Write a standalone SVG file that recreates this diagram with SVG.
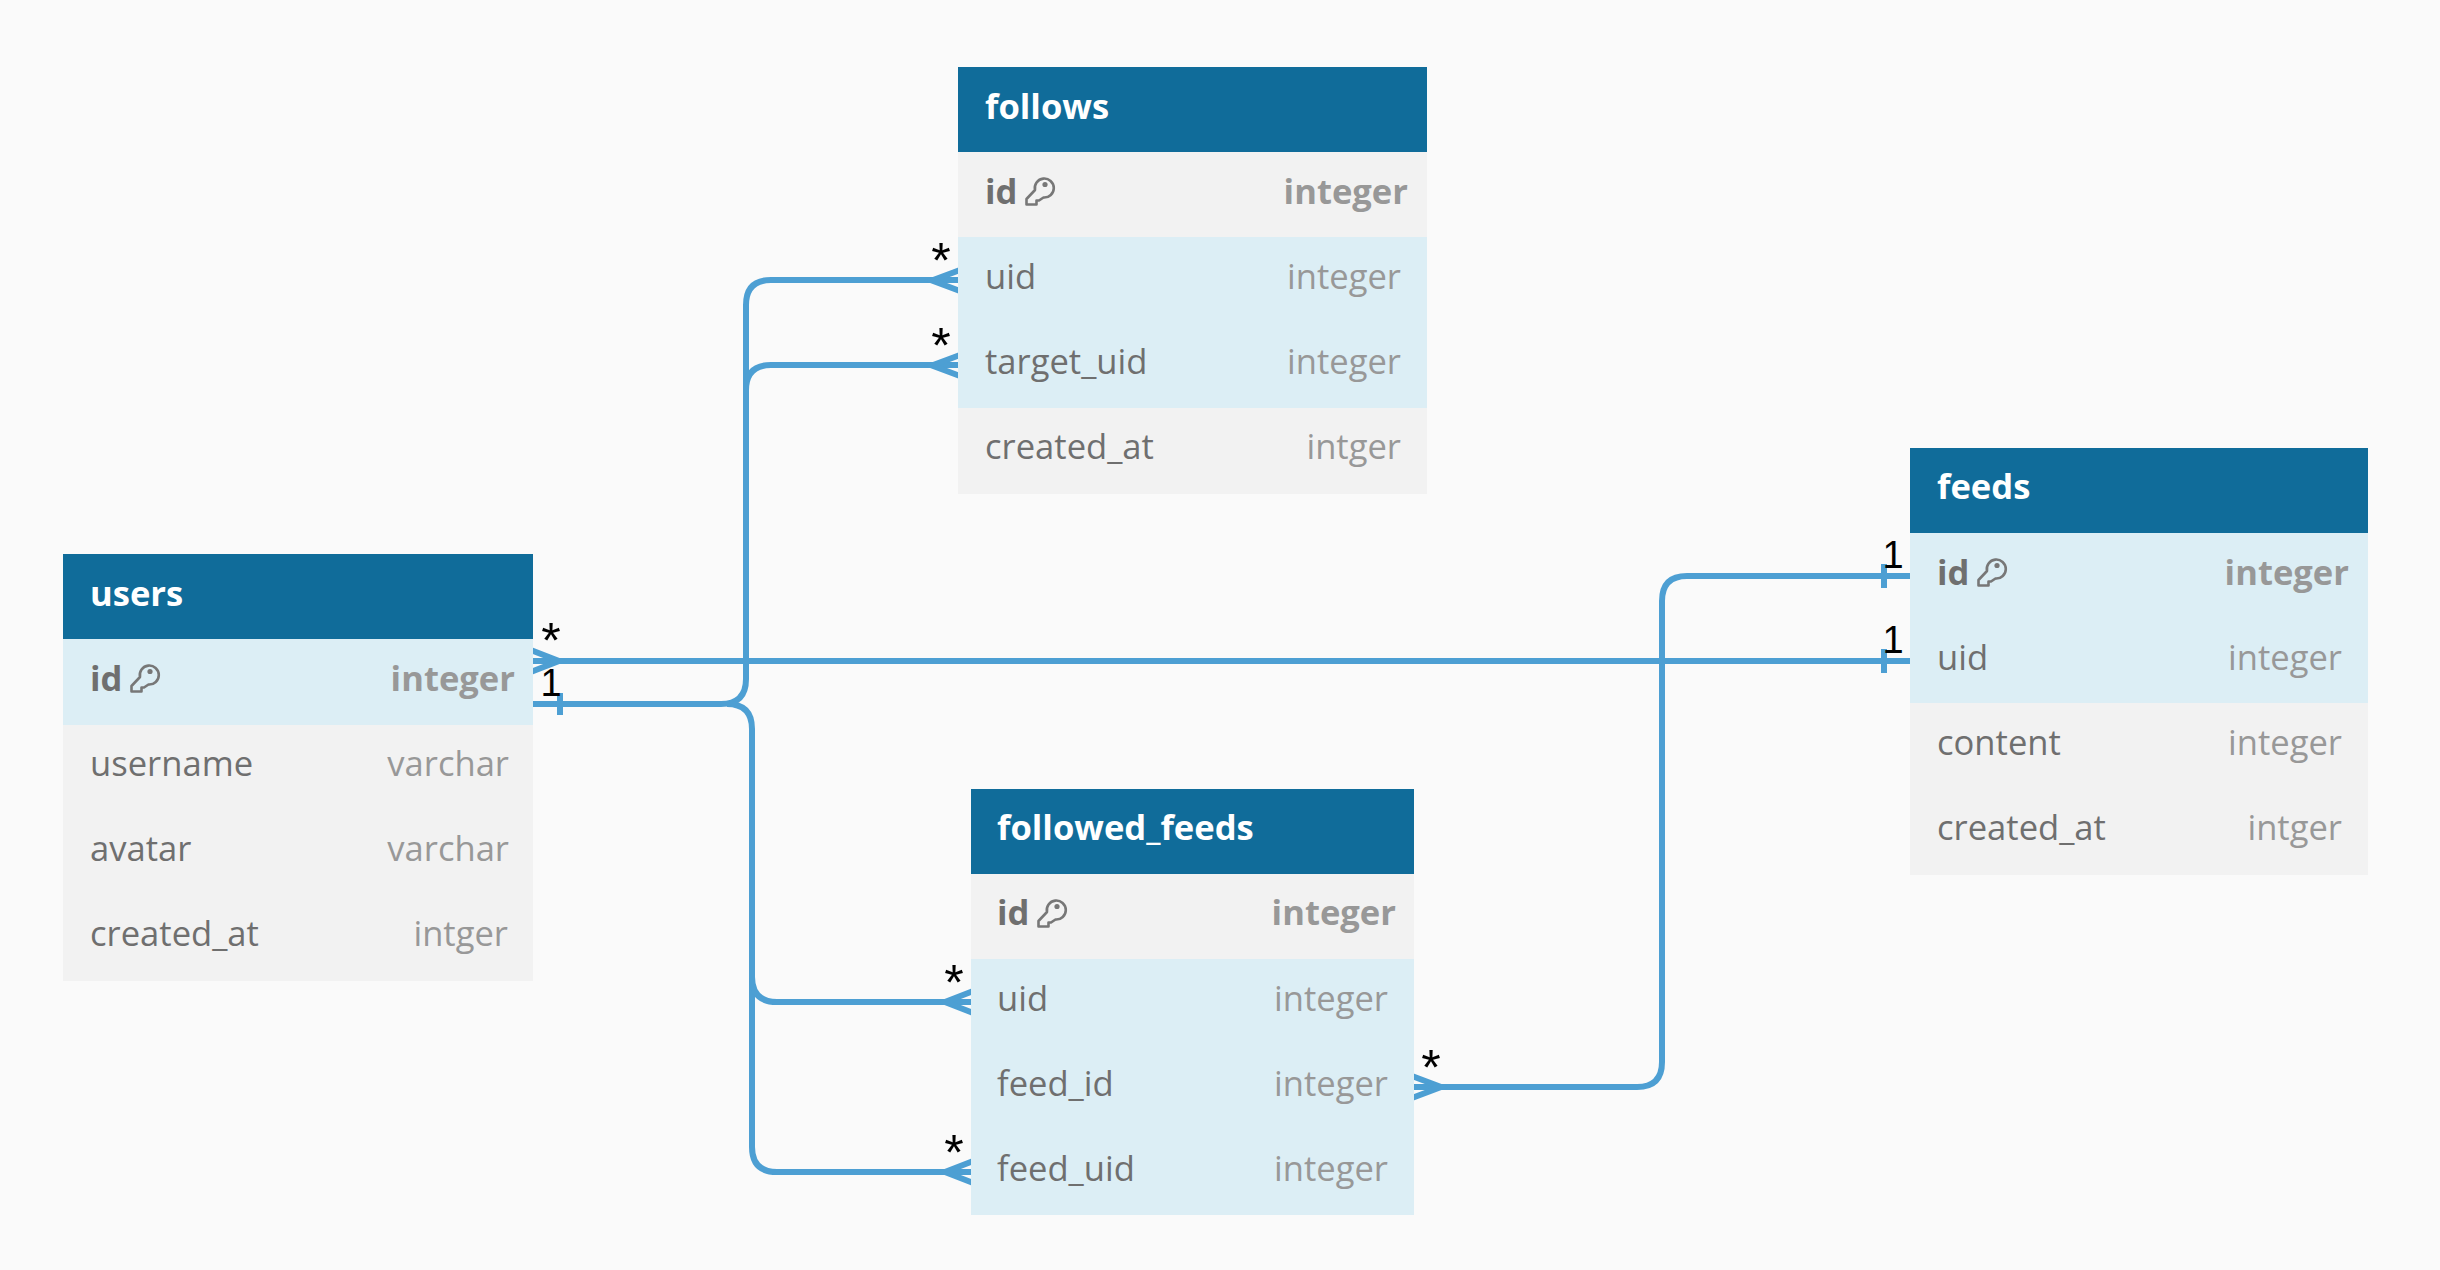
<svg xmlns="http://www.w3.org/2000/svg" width="2440" height="1270" viewBox="0 0 2440 1270">
<style>
.bg{fill:#fafafa}.hd{fill:#106c9a}.row{fill:#f2f2f2}.hl{fill:#dceef5}
text{font-family:"Open Sans","Noto Sans",sans-serif;font-size:34.6px}
.t{fill:#fff;font-weight:700}
.n{fill:#6f6f6f}.ty{fill:#989898;text-anchor:end}
.b{font-weight:700}
.c{fill:none;stroke:#4d9fd3;stroke-width:6}
.l{font-family:"Liberation Sans",Arial,sans-serif;font-size:38px;fill:#000;text-anchor:middle}
.s{font-size:50px}
.k{fill:none;stroke:#777;stroke-width:2.6;stroke-linejoin:round}
.kd{fill:#777}
</style>
<defs>
<g id="key"><path class="k" d="M1.5 22 L10 13 A9.5 9.5 0 1 1 18.5 20.5 L14 23.5 L11.5 23.5 L11.5 27.5 L1.5 27.5 Z"/><circle class="kd" cx="20" cy="7.5" r="2.6"/></g>
</defs>
<rect class="bg" width="2440" height="1270"/>
<g id="connectors">
<path class="c" d="M533 704 H721 Q746 704 746 679 V305 Q746 280 771 280 H958"/>
<path class="c" d="M746 390 Q746 365 771 365 H958"/>
<path class="c" d="M727 704 Q752 704 752 729 V1147 Q752 1172 777 1172 H971"/>
<path class="c" d="M752 977 Q752 1002 777 1002 H971"/>
<path class="c" d="M533 661 H1910"/>
<path class="c" d="M1414 1087 H1637 Q1662 1087 1662 1062 V601 Q1662 576 1687 576 H1910"/>
<path class="c" d="M523 647 L559 661 L523 675"/>
<path class="c" d="M968 267 L932 280.5 L968 294"/>
<path class="c" d="M968 352 L932 365.5 L968 379"/>
<path class="c" d="M981 988 L945 1002 L981 1016"/>
<path class="c" d="M981 1158 L945 1172 L981 1186"/>
<path class="c" d="M1404 1073 L1441 1087 L1404 1101"/>
<path class="c" d="M560 693 V715"/>
<path class="c" d="M1884 564 V588"/>
<path class="c" d="M1884 649 V673"/>
</g>
<g id="users">
<rect class="hd" x="63" y="554" width="470" height="85"/>
<rect class="hl" x="63" y="639" width="470" height="86"/>
<rect class="row" x="63" y="725" width="470" height="256"/>
<text class="t" x="90" y="606">users</text>
<text class="n b" x="90" y="691">id</text><use href="#key" x="130" y="664"/><text class="ty b" x="515" y="691">integer</text>
<text class="n" x="90" y="776">username</text><text class="ty" x="509" y="776">varchar</text>
<text class="n" x="90" y="861">avatar</text><text class="ty" x="509" y="861">varchar</text>
<text class="n" x="90" y="946">created_at</text><text class="ty" x="508" y="946">intger</text>
</g>
<g id="follows">
<rect class="hd" x="958" y="67" width="469" height="85"/>
<rect class="row" x="958" y="152" width="469" height="85"/>
<rect class="hl" x="958" y="237" width="469" height="171"/>
<rect class="row" x="958" y="408" width="469" height="86"/>
<text class="t" x="985" y="119">follows</text>
<text class="n b" x="985" y="204">id</text><use href="#key" x="1025" y="177"/><text class="ty b" x="1408" y="204">integer</text>
<text class="n" x="985" y="289">uid</text><text class="ty" x="1401" y="289">integer</text>
<text class="n" x="985" y="374">target_uid</text><text class="ty" x="1401" y="374">integer</text>
<text class="n" x="985" y="459">created_at</text><text class="ty" x="1401" y="459">intger</text>
</g>
<g id="followed_feeds">
<rect class="hd" x="971" y="789" width="443" height="85"/>
<rect class="row" x="971" y="874" width="443" height="85"/>
<rect class="hl" x="971" y="959" width="443" height="256"/>
<text class="t" x="997" y="840">followed_feeds</text>
<text class="n b" x="997" y="925">id</text><use href="#key" x="1037" y="899"/><text class="ty b" x="1396" y="925">integer</text>
<text class="n" x="997" y="1011">uid</text><text class="ty" x="1388" y="1011">integer</text>
<text class="n" x="997" y="1096">feed_id</text><text class="ty" x="1388" y="1096">integer</text>
<text class="n" x="997" y="1181">feed_uid</text><text class="ty" x="1388" y="1181">integer</text>
</g>
<g id="feeds">
<rect class="hd" x="1910" y="448" width="458" height="85"/>
<rect class="hl" x="1910" y="533" width="458" height="170"/>
<rect class="row" x="1910" y="703" width="458" height="172"/>
<text class="t" x="1937" y="499">feeds</text>
<text class="n b" x="1937" y="585">id</text><use href="#key" x="1977" y="558"/><text class="ty b" x="2349" y="585">integer</text>
<text class="n" x="1937" y="670">uid</text><text class="ty" x="2342" y="670">integer</text>
<text class="n" x="1937" y="755">content</text><text class="ty" x="2342" y="755">integer</text>
<text class="n" x="1937" y="840">created_at</text><text class="ty" x="2342" y="840">intger</text>
</g>
<g id="labels">
<text class="l s" x="551" y="658">*</text>
<text class="l" x="551" y="696">1</text>
<text class="l s" x="941" y="278">*</text>
<text class="l s" x="941" y="363">*</text>
<text class="l s" x="954" y="1000">*</text>
<text class="l s" x="954" y="1170">*</text>
<text class="l s" x="1431" y="1085">*</text>
<text class="l" x="1893" y="568">1</text>
<text class="l" x="1893" y="653">1</text>
</g>
</svg>
